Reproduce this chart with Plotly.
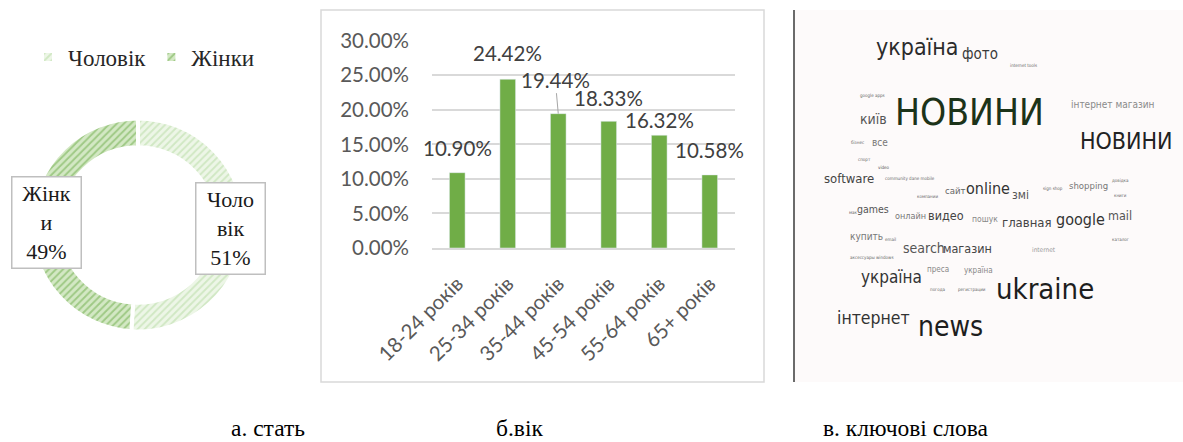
import plotly.graph_objects as go

W, H = 1183, 442

# ---------------- data ----------------
gender_labels = ["Чоловік", "Жінки"]
gender_values = [51, 49]

age_groups = ["18-24 років", "25-34 років", "35-44 років", "45-54 років", "55-64 років", "65+ років"]
age_share = [10.90, 24.42, 19.44, 18.33, 16.32, 10.58]
age_ticks = [0, 5, 10, 15, 20, 25, 30]

cloud_words = ["україна", "фото", "internet tools", "google apps", "НОВИНИ", "інтернет магазин",
               "київ", "НОВИНИ", "бізнес", "все", "спорт", "video", "software",
               "community dane mobile", "компании", "сайт", "online", "змі", "sign shop",
               "shopping", "довідка", "книги", "мак", "games", "онлайн", "видео", "пошук",
               "главная", "google", "mail", "купить", "email", "search", "магазин",
               "internet", "каталог", "аксессуары windows", "україна", "преса", "україна",
               "погода", "регистрации", "ukraine", "інтернет", "news"]

captions = ["а. стать", "б.вік", "в. ключові слова"]

# ---------------- layout helpers (pixel -> paper) ----------------
def px(x):
    return x / W

def py(y):
    return 1 - y / H

# word-cloud layout: centre x, centre y, font size, colour
cloud_layout = [
    (918, 47, 23, "#2b2b2b"), (980, 54, 15, "#3a3a3a"), (1023, 65, 4.5, "#666"),
    (872, 95, 4.5, "#666"), (969, 113, 37, "#1c3319"), (1113, 104, 10, "#8a8a8a"),
    (873, 119, 14, "#555"), (1126, 141, 23, "#222"), (857, 142, 4.5, "#666"),
    (880, 143, 10, "#777"), (864, 159, 4.5, "#666"), (884, 167, 4.5, "#555"),
    (849, 178, 13, "#444"), (910, 178, 4.5, "#666"), (928, 196, 4.5, "#666"),
    (955, 190, 9.5, "#666"), (988, 188, 16, "#333"), (1020, 195, 12, "#555"),
    (1053, 188, 4.5, "#666"), (1088, 185, 9.5, "#777"), (1120, 180, 4.5, "#666"),
    (1120, 195, 4.5, "#666"), (853, 212, 4.5, "#666"), (873, 209, 10.5, "#555"),
    (910, 216, 9, "#777"), (946, 215, 12.5, "#444"), (985, 219, 8.5, "#888"),
    (1027, 222, 13, "#444"), (1080, 219, 16, "#333"), (1120, 215, 12.5, "#555"),
    (866, 236, 10, "#777"), (890, 240, 4.5, "#666"), (924, 248, 14, "#555"),
    (967, 248, 12.5, "#444"), (1044, 250, 6.5, "#999"), (1120, 240, 4.5, "#666"),
    (872, 257, 4.5, "#666"), (891, 277, 17, "#333"), (938, 269, 8, "#888"),
    (978, 270, 8, "#888"), (938, 289, 4.5, "#666"), (972, 289, 4.5, "#666"),
    (1045, 289, 29, "#1e1e1e"), (873, 318, 17.5, "#333"), (950, 326, 28, "#1e1e1e"),
]

# bar-label offsets (pixels): (xshift, yshift)
bar_label_offsets = [(0, 25), (0, 26), (-3, 34), (0, 23), (0, 15), (0, 25)]

SERIF = "Liberation Serif, Times New Roman, serif"
SANS = "Lato, Carlito, Calibri, sans-serif"
NARROW = "Liberation Sans Narrow, DejaVu Sans Condensed, Arial Narrow, sans-serif"

fig = go.Figure()

# ---------------- donut ----------------
fig.add_trace(go.Pie(
    labels=gender_labels, values=gender_values, sort=False, direction="clockwise",
    rotation=0, hole=0.73, textinfo="none", hoverinfo="label+percent",
    domain=dict(x=[px(31.5), px(244.5)], y=[py(332), py(118)]),
    marker=dict(colors=["#edf6e7", "#d3e8c4"],
                line=dict(color="white", width=4),
                pattern=dict(shape=["/", "/"], fgcolor=["#b4d9a0", "#6aaa45"],
                             size=5, solidity=0.38, fillmode="overlay")),
    showlegend=True,
))

# ---------------- bars ----------------
fig.add_trace(go.Bar(
    x=age_groups, y=age_share, marker=dict(color="#70ad47"),
    showlegend=False, xaxis="x", yaxis="y", width=0.31,
    hovertemplate="%{x}: %{y:.2f}%<extra></extra>",
))

annotations = []
for g, v, (dx, dy) in zip(age_groups, age_share, bar_label_offsets):
    if dy >= 30:
        annotations.append(dict(
            x=g, y=v, xref="x", yref="y", text=f"{v:.2f}%", showarrow=True,
            arrowhead=0, arrowcolor="#a6a6a6", arrowwidth=1, ax=dx, ay=-dy,
            standoff=0, font=dict(family=SANS, size=20.5, color="#404040")))
    else:
        annotations.append(dict(
            x=g, y=v, xref="x", yref="y", text=f"{v:.2f}%", showarrow=False,
            xshift=dx, yshift=dy, font=dict(family=SANS, size=20.5, color="#404040")))

# donut label boxes
box_pos = [(230, 228), (46, 222)]
for lab, val, (bx, by) in zip(gender_labels, gender_values, box_pos):
    annotations.append(dict(
        x=px(bx), y=py(by), xref="paper", yref="paper", showarrow=False,
        xanchor="center", yanchor="middle",
        text=f"{lab[:4]}<br>{lab[4:]}<br>{val}%", align="center",
        font=dict(family=SERIF, size=22, color="#1a1a1a"),
        bgcolor="white", bordercolor="#bfbfbf", borderwidth=1.5, borderpad=1,
        width=66, height=88))

# word cloud
for w, (cx, cy, s, c) in zip(cloud_words, cloud_layout):
    annotations.append(dict(
        x=px(cx), y=py(cy), xref="paper", yref="paper", showarrow=False,
        text=w, font=dict(family=NARROW, size=s, color=c),
        xanchor="center", yanchor="middle"))

# captions
for t, cx in zip(captions, [268, 519, 905]):
    annotations.append(dict(
        x=px(cx), y=py(428), xref="paper", yref="paper", showarrow=False,
        text=t, font=dict(family=SERIF, size=23.5, color="black"),
        xanchor="center", yanchor="middle"))

shapes = [
    # bar chart frame
    dict(type="rect", xref="paper", yref="paper", x0=px(321), x1=px(764), y0=py(382), y1=py(10),
         line=dict(color="#d9d9d9", width=1.5), fillcolor="rgba(0,0,0,0)", layer="below"),
    # word cloud background
    dict(type="rect", xref="paper", yref="paper", x0=px(794), x1=px(1183), y0=py(382), y1=py(10),
         line=dict(width=0), fillcolor="#fdfafa", layer="below"),
    dict(type="line", xref="paper", yref="paper", x0=px(794), x1=px(794), y0=py(382), y1=py(10),
         line=dict(color="#3a3a3a", width=1.5)),
]

fig.update_layout(
    width=W, height=H, margin=dict(l=0, r=0, t=0, b=0, autoexpand=False),
    paper_bgcolor="white", plot_bgcolor="white",
    xaxis=dict(domain=[px(432), px(735)], range=[-0.5, len(age_groups) - 0.5],
               tickangle=-45, showgrid=False, automargin=False,
               showline=True, linecolor="#d9d9d9", linewidth=1.5, ticks="",
               ticklabelstandoff=14, ticklabelshift=0,
               tickfont=dict(family=SANS, size=20.5, color="#595959")),
    yaxis=dict(domain=[py(248), py(40.7)], range=[0, 30], tickvals=age_ticks, automargin=False,
               ticktext=[f"{t:.2f}%" for t in age_ticks], showgrid=True,
               gridcolor="#d9d9d9", gridwidth=1.5, zeroline=False, showline=False,
               ticks="", ticklabelstandoff=22,
               tickfont=dict(family=SANS, size=20.5, color="#595959")),
    legend=dict(orientation="h", x=px(28), y=py(57), xanchor="left", yanchor="middle",
                font=dict(family=SERIF, size=23, color="#262626"),
                itemwidth=30, bgcolor="rgba(0,0,0,0)"),
    annotations=annotations, shapes=shapes, bargap=0.69,
)

fig.write_html("out.html")
